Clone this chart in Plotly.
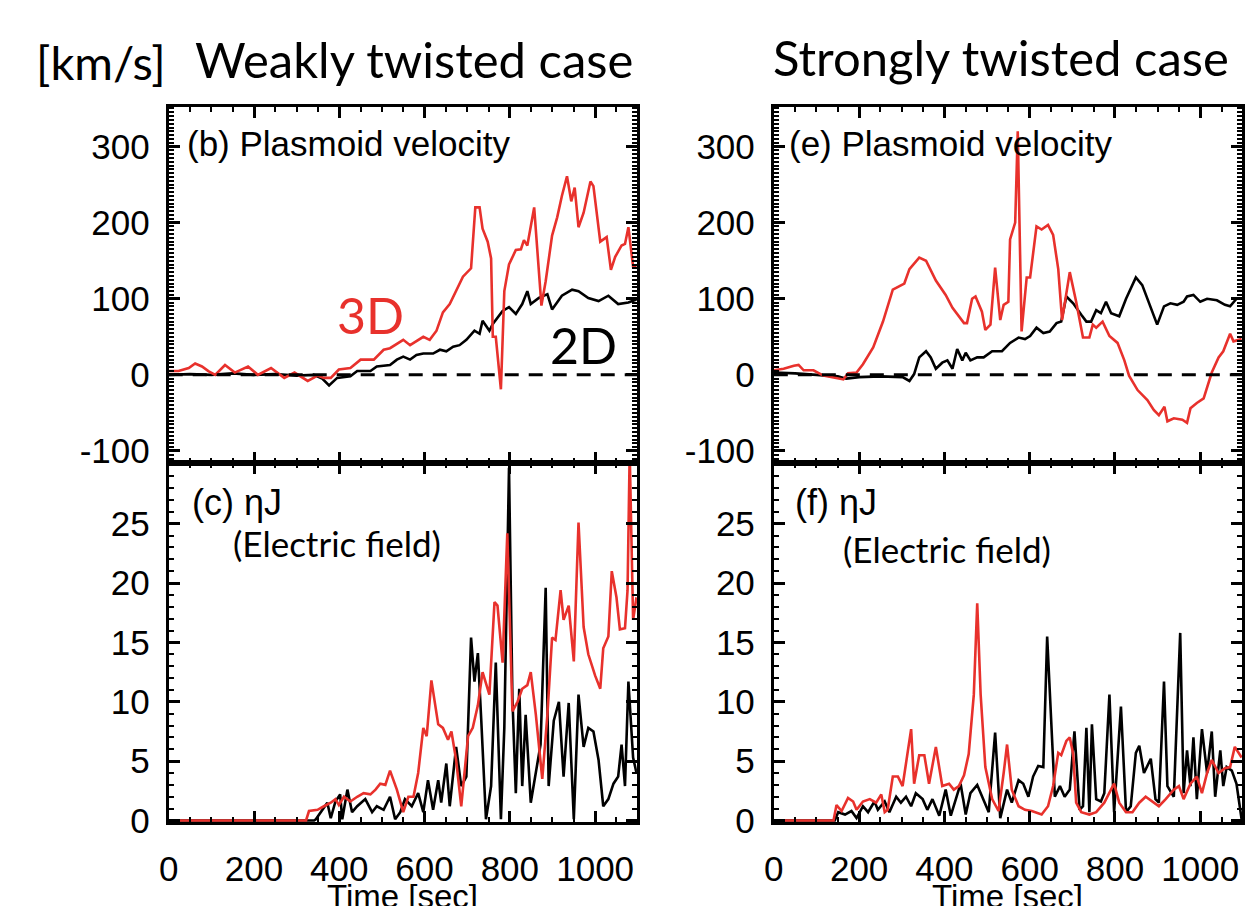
import plotly.graph_objects as go

# ---------------- data ----------------
# (b) plasmoid velocity, weakly twisted case [km/s]
t_b_3d = [0, 23, 47, 62, 78, 93, 109, 132, 155, 186, 209, 240, 271, 295, 326, 349, 364, 380,
          399, 426, 450, 481, 504, 519, 550, 566, 597, 612, 628, 643, 659, 674, 690, 709, 719,
          729, 736, 748, 756, 760, 767, 779, 787, 798, 814, 826, 833, 841, 857, 874, 884, 899,
          911, 922, 934, 944, 952, 961, 973, 989, 996, 1012, 1027, 1037, 1047, 1062, 1070,
          1078, 1089, 1097]
v_b_3d = [5, 5, 9, 15, 11, 5, 0, 13, 3, 11, 0, 9, -4, 3, -8, -1, -4, -4,
          7, 9, 20, 20, 33, 35, 46, 39, 50, 46, 58, 82, 93, 110, 129, 140, 220,
          220, 192, 175, 153, 50, 50, -19, 110, 145, 164, 165, 177, 170, 220, 91, 123, 183,
          207, 235, 261, 228, 246, 194, 213, 254, 248, 175, 181, 138, 155, 170, 172,
          194, 142, 142]
t_b_2d = [0, 50, 100, 150, 200, 250, 300, 340, 360, 376, 395, 426, 442, 473, 488, 519, 535,
          550, 566, 581, 597, 620, 636, 651, 667, 682, 698, 717, 729, 736, 752, 760, 783, 798,
          814, 829, 841, 849, 868, 888, 899, 922, 946, 961, 984, 1008, 1031, 1054, 1078, 1097]
v_b_2d = [0, 1, 0, 2, 0, 1, -1, 0, -5, -14, -4, -2, 5, 5, 11, 13, 20,
          24, 20, 26, 28, 28, 33, 31, 37, 39, 46, 58, 54, 71, 58, 67, 84, 89,
          80, 93, 110, 93, 101, 106, 86, 104, 112, 110, 101, 97, 104, 93, 95, 99]

# (e) plasmoid velocity, strongly twisted case [km/s]
t_e_3d = [0, 23, 47, 58, 70, 93, 116, 140, 163, 174, 194, 209, 233, 256, 279, 306, 318, 341,
          357, 380, 403, 419, 434, 446, 453, 465, 473, 488, 496, 508, 519, 531, 539, 550, 554,
          566, 572, 581, 593, 601, 616, 628, 643, 655, 667, 676, 694, 709, 725, 740, 748, 756,
          771, 787, 806, 822, 833, 853, 876, 891, 903, 916, 923, 938, 958, 969, 977, 992, 1008,
          1016, 1027, 1043, 1054, 1070, 1078, 1097]
v_e_3d = [6, 8, 12, 13, 6, 6, -1, -4, -6, 2, 3, 14, 36, 70, 112, 120, 139, 154,
          150, 124, 105, 88, 77, 68, 68, 100, 103, 83, 59, 66, 141, 72, 92, 96, 178,
          200, 320, 57, 128, 128, 195, 191, 197, 184, 139, 72, 135, 96, 49, 49, 66, 62,
          70, 51, 42, 19, -1, -20, -33, -46, -53, -42, -61, -57, -59, -63, -44, -37, -31,
          -16, 3, 23, 31, 54, 44, 47]
t_e_2d = [0, 50, 100, 150, 170, 200, 250, 302, 318, 329, 341, 357, 368, 380, 395, 407, 419,
          430, 442, 450, 461, 477, 492, 512, 535, 554, 574, 589, 601, 616, 632, 647, 663, 674,
          686, 702, 721, 733, 744, 756, 767, 779, 791, 810, 826, 849, 864, 884, 899, 915, 930,
          946, 961, 969, 984, 1000, 1016, 1039, 1058, 1070, 1085, 1097]
v_e_2d = [3, 2, 0, -2, -5, -3, -2, -3, -8, 1, 23, 31, 23, 8, 16, 19, 8,
          34, 19, 29, 19, 23, 23, 31, 31, 42, 49, 47, 51, 62, 55, 57, 68, 70,
          103, 94, 79, 70, 70, 85, 81, 96, 81, 77, 100, 128, 118, 88, 66, 90, 94,
          92, 96, 103, 105, 96, 100, 98, 92, 90, 100, 100]

# (c) eta*J, weakly twisted case
t_c_3d = [0, 100, 200, 300, 322, 329, 349, 364, 380, 391, 399, 411, 426, 442, 457, 473, 485,
          496, 508, 519, 535, 550, 562, 574, 585, 597, 605, 616, 632, 643, 655, 663, 674, 686,
          702, 713, 725, 736, 752, 764, 771, 783, 794, 806, 818, 829, 841, 849, 861, 876, 888,
          899, 907, 919, 926, 938, 950, 961, 973, 984, 1000, 1012, 1019, 1031, 1039, 1050,
          1058, 1070, 1076, 1081, 1089, 1097]
e_c_3d = [0, 0, 0, 0, 0, 0.8, 0.9, 1.2, 1.5, 1.8, 1.3, 2.0, 1.6, 2.0, 2.3, 2.2, 2.6,
          3.1, 3.0, 4.2, 2.6, 0.7, 2.0, 2.0, 4.0, 7.8, 7.1, 11.8, 8.1, 7.8, 6.8, 7.5, 5.1, 1.2,
          7.1, 7.8, 9.7, 12.5, 10.6, 18.4, 18.1, 13.3, 24.2, 9.2, 10.0, 11.1, 11.4, 12.5, 8.9, 3.5, 8.9,
          15.4, 15.2, 19.4, 16.9, 18.1, 13.4, 25.1, 16.3, 14.0, 12.2, 11.1, 14.5, 15.5, 21.0, 18.8,
          16.1, 16.2, 19.4, 31.0, 16.9, 18.8]
t_c_2d = [0, 200, 341, 345, 360, 372, 380, 391, 402, 407, 419, 430, 442, 461, 477, 488, 504,
          519, 531, 543, 554, 570, 585, 597, 608, 620, 632, 639, 651, 659, 674, 686, 698, 709,
          717, 725, 733, 744, 756, 767, 779, 787, 798, 806, 814, 822, 829, 837, 849, 861, 872,
          884, 891, 903, 915, 926, 938, 950, 961, 973, 984, 996, 1008, 1019, 1031, 1043, 1054,
          1062, 1070, 1078, 1089, 1097]
e_c_2d = [0, 0, 0, 0.1, 0.9, 1.5, 0.2, 1.6, 2.2, 0.1, 2.6, 0.7, 1.2, 1.8, 0.7, 1.2, 0.9,
          2.0, 0.1, 0.7, 1.8, 1.2, 2.3, 0.7, 3.4, 0.9, 3.4, 1.5, 4.8, 1.2, 6.2, 2.9, 3.7, 15.4,
          11.7, 14.1, 8.4, 0.1, 2.9, 13.3, 0.1, 7.8, 29.7, 10.3, 2.3, 11.1, 2.9, 8.9, 1.5, 4.2, 6.4,
          19.6, 2.9, 8.4, 10.0, 3.7, 9.9, 0.1, 10.6, 6.2, 7.8, 7.5, 5.1, 1.2, 1.8, 3.1, 3.7,
          6.4, 2.9, 11.7, 5.3, 4.0]

# (f) eta*J, strongly twisted case
t_f_3d = [0, 100, 140, 147, 159, 174, 186, 194, 209, 225, 240, 252, 260, 267, 279, 291, 302,
          322, 329, 341, 353, 364, 380, 395, 411, 422, 434, 446, 457, 469, 477, 485, 496, 512,
          527, 539, 547, 558, 574, 589, 605, 628, 643, 655, 667, 674, 686, 694, 702, 709, 721,
          740, 756, 775, 787, 798, 810, 826, 841, 857, 872, 888, 903, 919, 938, 950, 961, 977,
          992, 1004, 1016, 1027, 1043, 1058, 1070, 1081, 1097]
e_f_3d = [0, 0, 0, 1.3, 0.8, 1.9, 1.6, 0.9, 1.6, 1.8, 1.5, 2.2, 0.7, 0.9, 3.7, 3.7, 2.9,
          7.7, 3.1, 5.5, 5.5, 3.1, 6.2, 2.9, 3.1, 2.6, 2.9, 3.8, 5.6, 10.6, 18.3, 10.6, 4.5, 1.8,
          0.8, 4.0, 6.4, 2.6, 1.2, 0.9, 0.8, 0.5, 1.2, 2.9, 5.7, 5.5, 6.7, 7.0, 5.6, 1.5, 0.7,
          0.5, 0.7, 1.5, 2.3, 3.1, 1.5, 0.7, 0.7, 1.5, 2.0, 1.6, 1.2, 1.8, 2.6, 2.9, 1.8, 3.1,
          3.7, 2.3, 4.0, 5.1, 4.0, 4.4, 4.5, 6.2, 5.3]
t_f_2d = [0, 100, 143, 151, 167, 182, 194, 209, 221, 236, 244, 260, 271, 287, 298, 310, 322,
          333, 349, 360, 372, 388, 403, 415, 426, 438, 450, 461, 477, 488, 504, 519, 531, 547,
          558, 574, 585, 597, 608, 620, 632, 641, 651, 659, 671, 682, 694, 705, 717, 725, 733,
          740, 746, 756, 767, 775, 787, 798, 814, 826, 837, 849, 857, 868, 884, 895, 903, 915,
          923, 938, 953, 961, 969, 977, 984, 992, 1004, 1016, 1027, 1035, 1047, 1054, 1062,
          1074, 1085, 1097]
e_f_2d = [0, 0, 0, 0.7, 0.5, 0.8, 0.2, 1.2, 0.7, 1.6, 0.9, 1.6, 0.7, 2.0, 1.5, 2.0, 1.2,
          2.3, 1.8, 0.9, 1.8, 0.4, 2.6, 0.4, 1.8, 3.1, 0.5, 2.3, 3.0, 2.0, 0.7, 7.4, 0.2, 2.6,
          1.5, 3.4, 3.1, 2.0, 3.7, 4.6, 4.5, 15.5, 7.3, 2.0, 2.9, 2.0, 2.6, 7.5, 0.9, 1.2, 7.8,
          0.7, 8.1, 1.8, 1.6, 2.3, 10.6, 0.7, 9.6, 0.7, 1.2, 5.7, 6.3, 4.0, 5.2, 1.8, 1.5, 11.7,
          2.9, 2.0, 15.8, 2.3, 5.9, 2.9, 7.0, 1.8, 7.7, 4.0, 7.5, 2.0, 5.9, 2.9, 4.5,
          4.2, 3.1, 0.1]

x_ticks = [0, 200, 400, 600, 800, 1000]
v_ticks = [-100, 0, 100, 200, 300]
v_tick_text = ["-100", "0", "100", "200", "300"]
e_ticks = [0, 5, 10, 15, 20, 25]

# ---------------- layout helpers ----------------
W, H = 1247, 906
RED = "#e8312c"
TICK_FONT = dict(family="Liberation Sans, Arial, sans-serif", size=35, color="black")
GILL = "Lato, 'Open Sans', sans-serif"
HELV = "Liberation Sans, Arial, sans-serif"


def px_x(p):
    return p / W


def px_y(p):
    return 1 - p / H


left_dom = [px_x(160), px_x(632)]
right_dom = [px_x(770), px_x(1242)]
top_dom = [px_y(472), px_y(109)]
bot_dom = [px_y(838), px_y(472)]

fig = go.Figure()

panels = [
    # (xaxis, yaxis, t3d, v3d, t2d, v2d)
    ("x", "y", t_c_3d, e_c_3d, t_c_2d, e_c_2d),
    ("x2", "y2", t_b_3d, v_b_3d, t_b_2d, v_b_2d),
    ("x3", "y3", t_f_3d, e_f_3d, t_f_2d, e_f_2d),
    ("x4", "y4", t_e_3d, v_e_3d, t_e_2d, v_e_2d),
]
for xa, ya, t3, v3, t2, v2 in panels:
    fig.add_trace(go.Scatter(x=t2, y=v2, mode="lines", xaxis=xa, yaxis=ya,
                             line=dict(color="black", width=2.6), showlegend=False))
    fig.add_trace(go.Scatter(x=t3, y=v3, mode="lines", xaxis=xa, yaxis=ya,
                             line=dict(color=RED, width=2.6), showlegend=False))

xcommon = dict(tickvals=x_ticks, ticks="inside", ticklen=11, tickwidth=2.5,
               tickcolor="black", showline=True, linewidth=3, linecolor="black",
               mirror="allticks", showgrid=False, zeroline=False,
               minor=dict(dtick=50, tick0=0, ticks="inside", ticklen=5, tickwidth=2,
                          tickcolor="black", showgrid=False),
               tickfont=TICK_FONT, ticklabelstandoff=14)
ycommon = dict(ticks="inside", ticklen=11, tickwidth=2.5, tickcolor="black",
               showline=True, linewidth=3, linecolor="black", mirror="allticks",
               showgrid=False, zeroline=False, tickfont=TICK_FONT, ticklabelstandoff=9)
e_minor = dict(dtick=1, tick0=0, ticks="inside", ticklen=5, tickwidth=2,
               tickcolor="black", showgrid=False)
v_minor = dict(dtick=5, tick0=0, ticks="inside", ticklen=5, tickwidth=2,
               tickcolor="black", showgrid=False)

fig.update_layout(
    width=W, height=H, margin=dict(l=0, r=0, t=0, b=0),
    paper_bgcolor="white", plot_bgcolor="white",
    xaxis=dict(domain=left_dom, anchor="y", range=[0, 1098], **xcommon),
    xaxis2=dict(domain=left_dom, anchor="y2", matches="x", showticklabels=False, **xcommon),
    xaxis3=dict(domain=right_dom, anchor="y3", range=[0, 1098], **xcommon),
    xaxis4=dict(domain=right_dom, anchor="y4", matches="x3", showticklabels=False, **xcommon),
    yaxis=dict(domain=bot_dom, anchor="x", range=[-0.15, 30.1], tickvals=e_ticks,
               minor=e_minor, **ycommon),
    yaxis2=dict(domain=top_dom, anchor="x2", range=[-116, 352], tickvals=v_ticks,
                ticktext=v_tick_text, minor=v_minor, **ycommon),
    yaxis3=dict(domain=bot_dom, anchor="x3", range=[-0.15, 30.1], tickvals=e_ticks,
                minor=e_minor, **ycommon),
    yaxis4=dict(domain=top_dom, anchor="x4", range=[-116, 352], tickvals=v_ticks,
                ticktext=v_tick_text, minor=v_minor, **ycommon),
)

# zero reference lines in the velocity panels
for xa, ya in [("x2", "y2"), ("x4", "y4")]:
    fig.add_shape(type="line", xref=f"{xa} domain", yref=ya, x0=0, x1=1, y0=0, y1=0,
                  line=dict(color="black", width=3, dash="14px,10px"), layer="above")


def note(text, x, y, size, family, color="black", xanchor="center"):
    fig.add_annotation(text=text, x=px_x(x), y=px_y(y), xref="paper", yref="paper",
                       showarrow=False, xanchor=xanchor, yanchor="middle",
                       font=dict(family=family, size=size, color=color))


# headings
note("[km/s]", 92, 63, 47, GILL)
note("Weakly twisted case", 407, 60, 49, GILL)
note("Strongly twisted case", 999, 58, 49, GILL)

# panel labels
note("(b) Plasmoid velocity", 176, 146, 35, HELV, xanchor="left")
note("(e) Plasmoid velocity", 783, 146, 35, HELV, xanchor="left")
note("(c) ηJ", 181, 512, 36, HELV, xanchor="left")
note("(f) ηJ", 789, 512, 36, HELV, xanchor="left")
note("(Electric field)", 223, 553, 35, GILL, xanchor="left")
note("(Electric field)", 838, 559, 35, GILL, xanchor="left")

# series labels
note("3D", 363, 321, 50, GILL, color=RED)
note("2D", 578, 352, 50, GILL)

# x-axis titles
note("Time [sec]", 396, 914, 33, HELV)
note("Time [sec]", 1006, 914, 33, HELV)

fig.write_html("out.html")
